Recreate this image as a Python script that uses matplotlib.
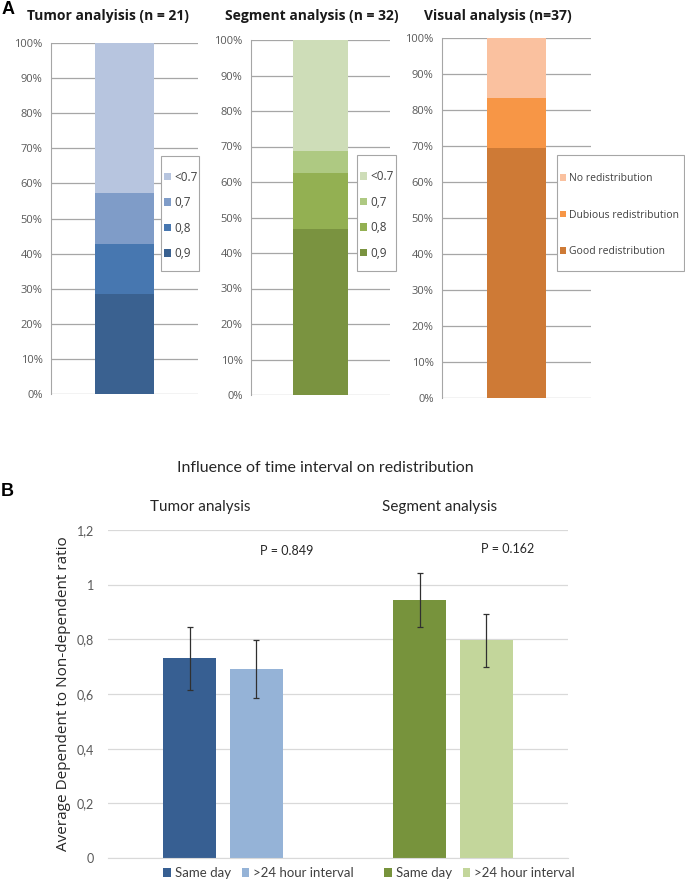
import matplotlib.pyplot as plt
from matplotlib.patches import Rectangle
import numpy as np

W, H = 685, 881

# panel A data
tumor_labels = ['0,9', '0,8', '0,7', '<0.7']
tumor_counts = [6, 3, 3, 9]
segment_labels = ['0,9', '0,8', '0,7', '<0.7']
segment_counts = [15, 5, 2, 10]
visual_labels = ['Good redistribution', 'Dubious redistribution', 'No redistribution']
visual_pct = [69.4, 13.9, 16.7]

# panel B data
interval_labels = ['Same day', '>24 hour interval']
group_names = ['Tumor analysis', 'Segment analysis']
ratio_mean = [[0.730, 0.691], [0.944, 0.796]]
ratio_err = [[0.114, 0.107], [0.100, 0.096]]
p_values = ['P = 0.849', 'P = 0.162']

tumor_colors = ['#3A6190', '#4777B0', '#7F9CC8', '#B7C5DF']
segment_colors = ['#7A9340', '#93B052', '#AEC982', '#CEDDB8']
visual_colors = ['#CE7A36', '#F79646', '#FAC19F']
b_colors = [['#375F92', '#95B3D7'], ['#77933C', '#C3D69B']]

SANS = ['Open Sans', 'DejaVu Sans']
NARROW = ['Lato', 'DejaVu Sans']
plt.rcParams['font.family'] = SANS


def px_axes(fig, x0, y0, x1, y1):
    return fig.add_axes([x0 / W, 1 - y1 / H, (x1 - x0) / W, (y1 - y0) / H])


def stacked(fig, box, fracs, colors, labels, title, title_xy, leg_box, leg_size, leg_space):
    ax = px_axes(fig, *box)
    bottom = 0
    handles = []
    for f, c in zip(fracs, colors):
        h = ax.bar(0.5, f, 0.4, bottom=bottom, color=c, zorder=2)
        bottom += f
        handles.append(h)
    ax.set_xlim(0, 1)
    ax.set_ylim(0, 1)
    ticks = np.arange(0, 1.01, 0.1)
    ax.set_yticks(ticks)
    ax.set_yticklabels([f'{int(round(t * 100))}%' for t in ticks])
    ax.yaxis.grid(True, color='#A6A6A6', lw=0.9, zorder=0)
    ax.set_xticks([])
    for s in ['top', 'right', 'bottom']:
        ax.spines[s].set_visible(False)
    ax.spines['left'].set_color('#A6A6A6')
    ax.tick_params(axis='y', length=0, labelsize=8, colors='#595959', pad=6)
    fig.text(title_xy[0] / W, 1 - title_xy[1] / H, title, ha='center', va='center',
             fontsize=10, fontweight='bold', color='#1a1a1a')
    # legend box drawn by hand so the padding can differ per direction
    x0, y0, x1, y1 = leg_box
    fig.patches.append(Rectangle((x0 / W, 1 - y1 / H), (x1 - x0) / W, (y1 - y0) / H,
                                 transform=fig.transFigure, facecolor='white',
                                 edgecolor='#A6A6A6', lw=0.8, zorder=5))
    leg = fig.legend(handles[::-1], labels[::-1], loc='center left',
                     bbox_to_anchor=((x0 + 3) / W, 1 - ((y0 + y1) / 2 + 2) / H),
                     frameon=False, fontsize=leg_size,
                     handlelength=0.6, handleheight=0.6, handletextpad=0.3,
                     labelspacing=leg_space, borderpad=0, borderaxespad=0)
    leg.set_zorder(6)
    for t in leg.get_texts():
        t.set_color('#404040')
    return ax


fig = plt.figure(figsize=(W / 100, H / 100), dpi=100)

stacked(fig, (51, 43, 198, 394), [c / sum(tumor_counts) for c in tumor_counts],
        tumor_colors, tumor_labels, 'Tumor analyisis (n = 21)', (108, 16),
        (161, 156, 199, 271), 8.5, 1.05)
stacked(fig, (251, 40, 390, 395), [c / sum(segment_counts) for c in segment_counts],
        segment_colors, segment_labels, 'Segment analysis (n = 32)', (312, 16),
        (357, 155, 396, 271), 8.5, 1.05)
stacked(fig, (442, 38, 591, 398), [p / 100 for p in visual_pct],
        visual_colors, visual_labels, 'Visual analysis (n=37)', (498, 16),
        (557, 155, 684, 271), 7.5, 2.45)

fig.text(2 / W, 1 - 9 / H, 'A', fontsize=13, fontweight='bold', va='center', family='Liberation Sans')
fig.text(1 / W, 1 - 492 / H, 'B', fontsize=13, fontweight='bold', va='center', family='Liberation Sans')

# panel B
fig.text(325 / W, 1 - 468 / H, 'Influence of time interval on redistribution', ha='center',
         va='center', fontsize=11.5, family=NARROW, color='#262626')
b_boxes = [(108, 530, 338, 858), (338, 530, 568, 858)]
title_x = [200, 440]
p_xy = [(287, 551), (508, 549)]
leg_x = [163, 384]
offsets = [-0.29, 0.29]
for gi, box in enumerate(b_boxes):
    ax = px_axes(fig, *box)
    hs = []
    for si in range(2):
        h = ax.bar(offsets[si], ratio_mean[gi][si], 0.46, color=b_colors[gi][si], zorder=2)
        ax.errorbar(offsets[si], ratio_mean[gi][si], yerr=ratio_err[gi][si], fmt='none',
                    ecolor='#303030', elinewidth=0.9, capsize=2, capthick=0.9, zorder=3)
        hs.append(h)
    ax.set_xlim(-1, 1)
    ax.set_ylim(0, 1.2)
    ax.set_yticks(np.arange(0, 1.21, 0.2))
    ax.yaxis.grid(True, color='#D9D9D9', lw=0.9, zorder=0)
    ax.set_xticks([])
    for s in ['top', 'right', 'left']:
        ax.spines[s].set_visible(False)
    ax.spines['bottom'].set_color('#D9D9D9')
    if gi == 0:
        ax.set_yticklabels(['0', '0,2', '0,4', '0,6', '0,8', '1', '1,2'], family=NARROW)
        ax.tick_params(axis='y', length=0, labelsize=9, colors='#595959', pad=10)
        ax.set_ylabel('Average Dependent to Non-dependent ratio', fontsize=11,
                      color='#262626', labelpad=4)
    else:
        ax.tick_params(axis='y', length=0, labelleft=False)
    fig.text(title_x[gi] / W, 1 - 507 / H, group_names[gi], ha='center', va='center',
             fontsize=11, family=NARROW, color='#262626')
    fig.text(p_xy[gi][0] / W, 1 - p_xy[gi][1] / H, p_values[gi], ha='center', va='center',
             fontsize=9, family=NARROW, color='#262626')
    leg = fig.legend(hs, interval_labels, loc='center left', ncol=2,
                     bbox_to_anchor=(leg_x[gi] / W, 1 - 873 / H), frameon=False,
                     prop={'family': NARROW, 'size': 9.5}, handlelength=0.6, handleheight=0.6,
                     handletextpad=0.3, columnspacing=0.8, borderaxespad=0, borderpad=0)
    for t in leg.get_texts():
        t.set_color('#404040')

fig.savefig('out.png', dpi=100)
